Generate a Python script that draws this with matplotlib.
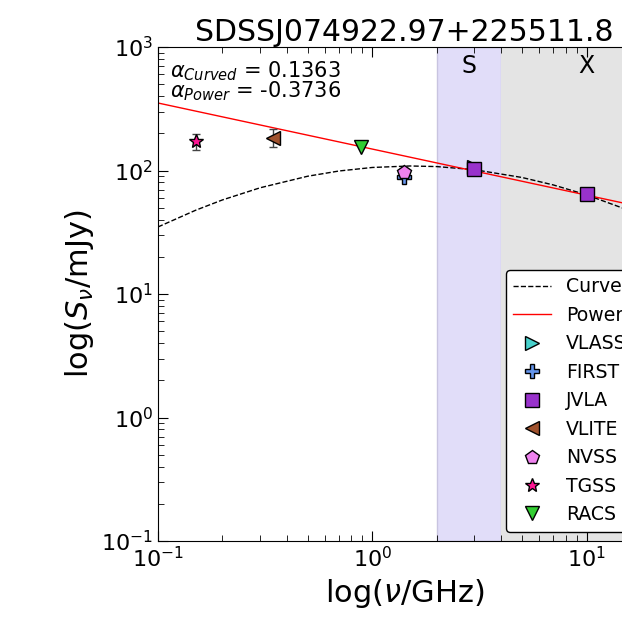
import numpy as np
import matplotlib
matplotlib.use('Agg')
import matplotlib.pyplot as plt

# survey flux densities (GHz, mJy)
nu_tgss, s_tgss, e_tgss = [0.150], [172.0], [25.0]
nu_vlite, s_vlite, e_vlite = [0.345], [185.0], [30.0]
nu_racs, s_racs = [0.888], [155.0]
nu_nvss, s_nvss = [1.4], [97.0]
nu_first, s_first = [1.4], [88.0]
nu_vlass, s_vlass = [3.0], [106.0]
nu_jvla, s_jvla = [3.0, 10.0], [103.0, 65.0]

# model curves
nu_curve = [0.1, 0.15, 0.2, 0.3, 0.5, 0.7, 1.0, 1.5, 2.0, 3.0, 5.0, 7.0, 10.0, 15.0, 20.0]
s_curve = [34.9, 47.7, 57.8, 72.5, 89.9, 99.1, 105.8, 108.8, 107.6, 101.5, 87.8, 76.4, 63.5, 49.1, 39.7]
nu_power = [0.1, 20.0]
s_power = [352.0, 48.8]

alpha_curved = 0.1363
alpha_power = -0.3736

fig = plt.figure(figsize=(6.22, 6.18), dpi=100)
ax = fig.add_axes([158/622, 77/618, 493/622, 494/618])
ax.set_xscale('log')
ax.set_yscale('log')
ax.set_xlim(0.1, 20)
ax.set_ylim(0.1, 1000)

ax.axvspan(2, 4, facecolor='#e1ddf9', edgecolor='#c8c4e0', lw=1, zorder=0)
ax.axvspan(4, 20, facecolor='#e4e4e4', edgecolor='none', zorder=0)
ax.text(np.sqrt(2*4), 700, 'S', fontsize=17, ha='center', va='center')
ax.text(10, 700, 'X', fontsize=17, ha='center', va='center')

ax.plot(nu_curve, s_curve, color='black', ls='--', lw=1, label='Curved', zorder=2)
ax.plot(nu_power, s_power, color='red', lw=1, label='Power', zorder=2)

# error bars drawn on their own so the legend shows only the markers
ax.errorbar(nu_vlite, s_vlite, yerr=e_vlite, fmt='none', ecolor='#444444', elinewidth=1, capsize=3, zorder=2)
ax.errorbar(nu_tgss, s_tgss, yerr=e_tgss, fmt='none', ecolor='#444444', elinewidth=1, capsize=3, zorder=2)

mk = dict(ls='none', markeredgecolor='black', markersize=10, zorder=3)
ax.plot(nu_vlass, s_vlass, marker='>', color='mediumturquoise', label='VLASS', **mk)
ax.plot(nu_first, s_first, marker='P', color='cornflowerblue', label='FIRST', **mk)
ax.plot(nu_jvla, s_jvla, marker='s', color='darkorchid', label='JVLA', **mk)
ax.plot(nu_vlite, s_vlite, marker='<', color='sienna', label='VLITE', **mk)
ax.plot(nu_nvss, s_nvss, marker='p', color='violet', label='NVSS', **mk)
ax.plot(nu_tgss, s_tgss, marker='*', color='deeppink', label='TGSS', **mk)
ax.plot(nu_racs, s_racs, marker='v', color='limegreen', label='RACS', **mk)

ax.text(0.025, 0.975, r'$\alpha_{Curved}$ = %.4f' % alpha_curved, transform=ax.transAxes,
        fontsize=15, va='top')
ax.text(0.025, 0.935, r'$\alpha_{Power}$ = %.4f' % alpha_power, transform=ax.transAxes,
        fontsize=15, va='top')

ax.tick_params(which='both', direction='in', top=True, right=True, labelsize=16)
ax.tick_params(which='major', length=7)
ax.tick_params(which='minor', length=4)
ax.set_xlabel(r'log($\nu$/GHz)', fontsize=22)
ax.set_ylabel(r'log($S_{\nu}$/mJy)', fontsize=22)
ax.set_title('SDSSJ074922.97+225511.8', fontsize=21.5, pad=3)

leg = ax.legend(loc='lower right', fontsize=13.6, framealpha=1, edgecolor='black')

fig.savefig('out.png', dpi=100)
